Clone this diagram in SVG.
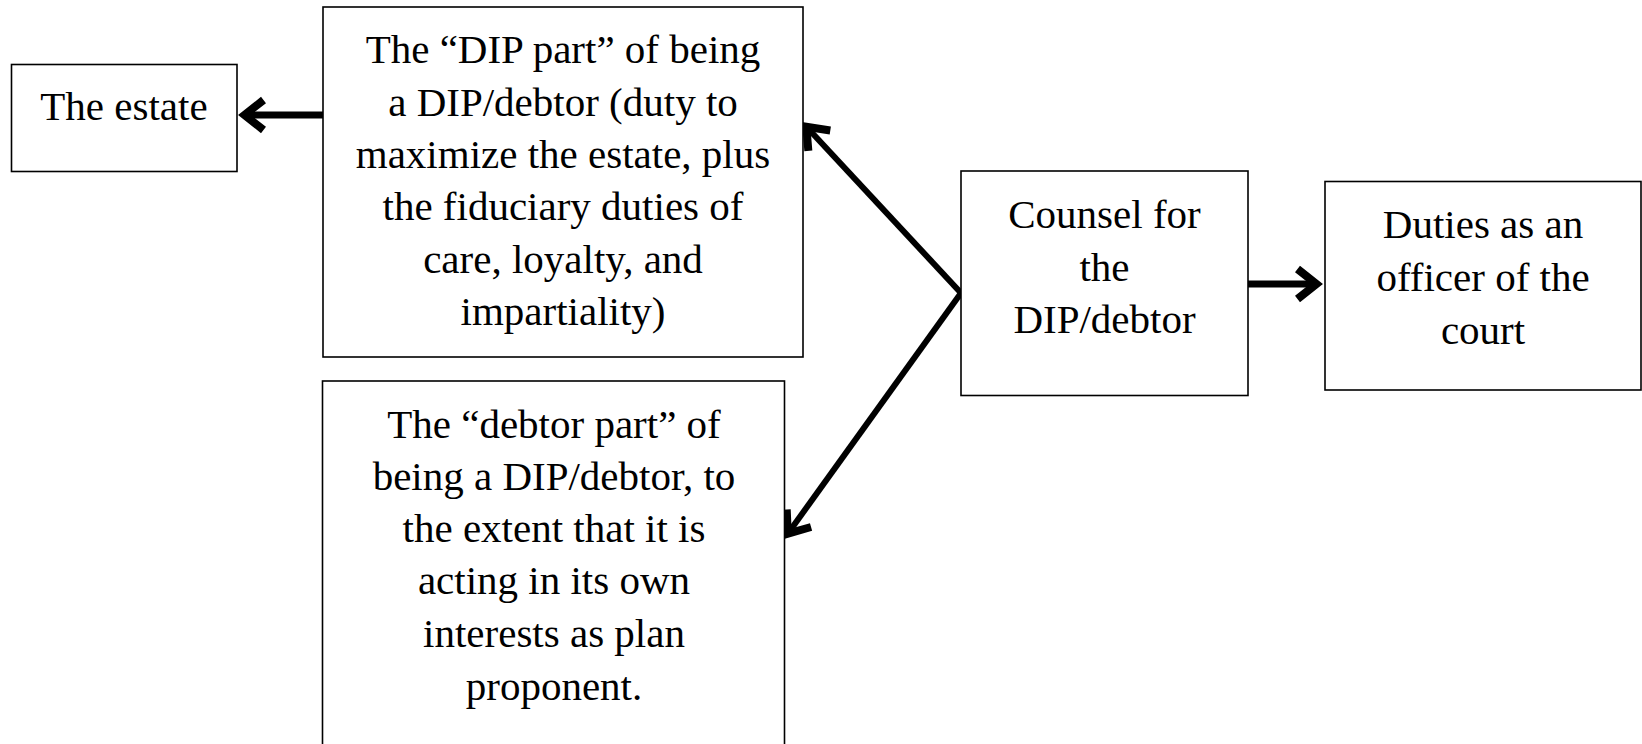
<svg xmlns="http://www.w3.org/2000/svg" width="1642" height="744" viewBox="0 0 1642 744">
  <style>
    .box { fill: #fff; stroke: #000; stroke-width: 1.6; }
    .t { font-family: "Liberation Serif", "Times New Roman", serif; font-size: 41px; fill: #000; text-anchor: middle; }
    .conn { fill: none; stroke: #000; stroke-linecap: butt; }
  </style>
  <defs>
    <marker id="arr" markerUnits="userSpaceOnUse" viewBox="-32 -22 36 44" refX="-5" refY="0" markerWidth="36" markerHeight="44" orient="auto">
      <path d="M -25 -15 L -6 0 L -25 15" fill="none" stroke="#000" stroke-width="8" stroke-linejoin="miter" stroke-miterlimit="10" stroke-linecap="butt"/>
    </marker>
  </defs>

  <g id="connectors">
    <line class="conn" x1="323" y1="115" x2="243.5" y2="115" stroke-width="7" marker-end="url(#arr)"/>
    <line class="conn" x1="1248" y1="284" x2="1317.5" y2="284" stroke-width="7" marker-end="url(#arr)"/>
    <line class="conn" x1="961" y1="293" x2="805.7" y2="126" stroke-width="6" marker-end="url(#arr)"/>
    <line class="conn" x1="961" y1="293" x2="787.2" y2="534.5" stroke-width="6" marker-end="url(#arr)"/>
  </g>

  <g id="estate">
    <rect class="box" x="11.5" y="64.5" width="225.5" height="107"/>
    <text class="t" x="124" y="120">The estate</text>
  </g>

  <g id="dip-part">
    <rect class="box" x="323" y="7" width="480" height="350"/>
    <text class="t" x="563" y="63">The “DIP part” of being</text>
    <text class="t" x="563" y="116">a DIP/debtor (duty to</text>
    <text class="t" x="563" y="168">maximize the estate, plus</text>
    <text class="t" x="563" y="220">the fiduciary duties of</text>
    <text class="t" x="563" y="273">care, loyalty, and</text>
    <text class="t" x="563" y="325">impartiality)</text>
  </g>

  <g id="debtor-part">
    <rect class="box" x="322.5" y="381" width="462" height="400"/>
    <text class="t" x="554" y="438">The “debtor part” of</text>
    <text class="t" x="554" y="490">being a DIP/debtor, to</text>
    <text class="t" x="554" y="542">the extent that it is</text>
    <text class="t" x="554" y="594">acting in its own</text>
    <text class="t" x="554" y="647">interests as plan</text>
    <text class="t" x="554" y="700">proponent.</text>
  </g>

  <g id="counsel">
    <rect class="box" x="961" y="171" width="287" height="224.5"/>
    <text class="t" x="1104.5" y="228">Counsel for</text>
    <text class="t" x="1104.5" y="281">the</text>
    <text class="t" x="1104.5" y="333">DIP/debtor</text>
  </g>

  <g id="duties">
    <rect class="box" x="1325" y="181.5" width="316" height="208.5"/>
    <text class="t" x="1483" y="238">Duties as an</text>
    <text class="t" x="1483" y="291">officer of the</text>
    <text class="t" x="1483" y="344">court</text>
  </g>
</svg>
